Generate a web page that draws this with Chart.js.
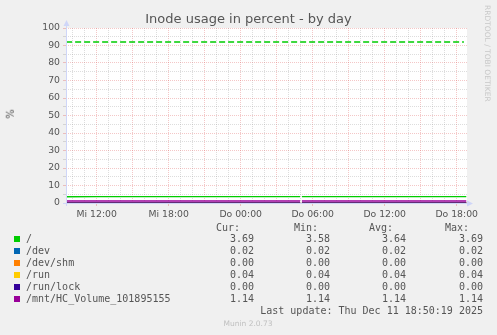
<!DOCTYPE html>
<html>
<head>
<meta charset="utf-8">
<script src="https://cdn.jsdelivr.net/npm/chart.js@4/dist/chart.umd.min.js"></script>
<style>
    body { margin: 0; background: #f0f0f0; }
    #wrap { position: relative; width: 497px; height: 335px; overflow: hidden; }
    #chart { position: absolute; left: 0; top: 0; }
    .txt { position: absolute; white-space: pre; color: #555; font-family: "DejaVu Sans", sans-serif; }
    .mono { font-family: "DejaVu Sans Mono", monospace; font-size: 10px; line-height: 12px; }
</style>
</head>
<body>
<div id="wrap">
    <canvas id="chart" width="497" height="335"></canvas>
</div>
<script>
// hours since Wednesday 00:00
const times = [9.45, 12, 15, 18, 21, 24, 27, 28.95, 29.02, 29.1, 30, 33, 36, 39, 42, 42.8];

const rootValues = [3.58, 3.59, 3.60, 3.61, 3.62, 3.63, 3.64, 3.65, null, 3.65, 3.65, 3.66, 3.67, 3.68, 3.69, 3.69];
const devValues  = [0.02, 0.02, 0.02, 0.02, 0.02, 0.02, 0.02, 0.02, null, 0.02, 0.02, 0.02, 0.02, 0.02, 0.02, 0.02];
const shmValues  = [0.00, 0.00, 0.00, 0.00, 0.00, 0.00, 0.00, 0.00, null, 0.00, 0.00, 0.00, 0.00, 0.00, 0.00, 0.00];
const runValues  = [0.04, 0.04, 0.04, 0.04, 0.04, 0.04, 0.04, 0.04, null, 0.04, 0.04, 0.04, 0.04, 0.04, 0.04, 0.04];
const lockValues = [0.00, 0.00, 0.00, 0.00, 0.00, 0.00, 0.00, 0.00, null, 0.00, 0.00, 0.00, 0.00, 0.00, 0.00, 0.00];
const mntValues  = [1.14, 1.14, 1.14, 1.14, 1.14, 1.14, 1.14, 1.14, null, 1.14, 1.14, 1.14, 1.14, 1.14, 1.14, 1.14];

const warnTimes = [9.45, 42.6];
const warnValues = [92, 92];

const seriesNames = ['/', '/dev', '/dev/shm', '/run', '/run/lock', '/mnt/HC_Volume_101895155'];
const seriesColors = ['#00CC00', '#0066B3', '#FF8000', '#FFCC00', '#330099', '#990099'];
const seriesValues = [rootValues, devValues, shmValues, runValues, lockValues, mntValues];

const curValues = ['3.69', '0.02', '0.00', '0.04', '0.00', '1.14'];
const minValues = ['3.58', '0.02', '0.00', '0.04', '0.00', '1.14'];
const avgValues = ['3.64', '0.02', '0.00', '0.04', '0.00', '1.14'];
const maxValues = ['3.69', '0.02', '0.00', '0.04', '0.00', '1.14'];

const labelHours = [12, 18, 24, 30, 36, 42];
const hourLabels = ['Mi 12:00', 'Mi 18:00', 'Do 00:00', 'Do 06:00', 'Do 12:00', 'Do 18:00'];

const gridGrey = 'rgba(150, 150, 150, 0.32)';
const gridRed = 'rgba(220, 80, 80, 0.32)';
const axisColor = '#CFD6F8';

const datasets = seriesNames.map((name, i) => ({
    label: name,
    data: times.map((t, k) => ({x: t, y: seriesValues[i][k]})),
    borderColor: seriesColors[i],
    borderWidth: 1.3,
    order: seriesNames.length - i
}));
datasets.push({
    label: 'warning',
    data: warnTimes.map((t, k) => ({x: t, y: warnValues[k]})),
    borderColor: '#00CC00',
    borderWidth: 1.3,
    borderDash: [6, 3],
    order: 10
});

const munin = {
    id: 'munin',
    beforeDraw(chart) {
        const {ctx, chartArea: a} = chart;
        ctx.save();
        ctx.fillStyle = '#ffffff';
        ctx.fillRect(a.left, a.top, a.right - a.left, a.bottom - a.top);
        ctx.restore();
    },
    afterDraw(chart) {
        const {ctx, chartArea: a} = chart;
        ctx.save();
        ctx.strokeStyle = axisColor;
        ctx.fillStyle = axisColor;
        ctx.lineWidth = 1;
        ctx.beginPath();
        ctx.moveTo(a.left - 3, a.bottom + 0.5);
        ctx.lineTo(a.right + 1, a.bottom + 0.5);
        ctx.moveTo(a.left + 0.5, a.bottom + 3);
        ctx.lineTo(a.left + 0.5, a.top - 2);
        ctx.stroke();
        // arrows
        ctx.beginPath();
        ctx.moveTo(a.left + 0.5, a.top - 8);
        ctx.lineTo(a.left - 2.5, a.top - 2);
        ctx.lineTo(a.left + 3.5, a.top - 2);
        ctx.closePath();
        ctx.fill();
        ctx.beginPath();
        ctx.moveTo(a.right + 6, a.bottom + 0.5);
        ctx.lineTo(a.right + 0, a.bottom - 2.5);
        ctx.lineTo(a.right + 0, a.bottom + 3.5);
        ctx.closePath();
        ctx.fill();
        ctx.restore();
    }
};

new Chart(document.getElementById('chart'), {
    type: 'line',
    data: {datasets},
    plugins: [munin],
    options: {
        responsive: false,
        animation: false,
        layout: {padding: {left: 0, right: 30, top: 28, bottom: 0}},
        plugins: {legend: {display: false}, tooltip: {enabled: false}},
        elements: {point: {radius: 0}, line: {tension: 0}},
        datasets: {line: {clip: 4, spanGaps: false}},
        scales: {
            x: {
                type: 'linear',
                min: 9.44,
                max: 42.86,
                afterBuildTicks(scale) {
                    const t = [];
                    for (let h = 10; h <= 42; h++) t.push({value: h});
                    scale.ticks = t;
                },
                afterFit(scale) { scale.height = 132; },
                ticks: {
                    autoSkip: false,
                    maxRotation: 0,
                    minRotation: 0,
                    padding: 3,
                    color: '#555',
                    font: {family: 'DejaVu Sans', size: 9.3},
                    callback: v => {
                        const i = labelHours.indexOf(v);
                        return i < 0 ? '' : hourLabels[i];
                    }
                },
                grid: {
                    color: c => (c.tick && c.tick.value % 3 === 0) ? gridRed : gridGrey,
                    tickColor: c => (c.tick && c.tick.value % 6 === 0) ? gridRed : 'rgba(0,0,0,0)',
                    tickLength: 3,
                    lineWidth: 1
                },
                border: {display: false, dash: [1, 1]}
            },
            y: {
                min: 0,
                max: 100,
                afterBuildTicks(scale) {
                    const t = [];
                    for (let v = 0; v <= 100; v += 5) t.push({value: v});
                    scale.ticks = t;
                },
                afterFit(scale) { scale.width = 66; },
                ticks: {
                    autoSkip: false,
                    padding: 3,
                    color: '#555',
                    font: {family: 'DejaVu Sans', size: 9.3},
                    callback: v => v % 10 === 0 ? String(v) : ''
                },
                grid: {
                    color: c => (c.tick && c.tick.value % 10 === 0) ? gridRed : gridGrey,
                    tickColor: c => (c.tick && c.tick.value % 10 === 0) ? gridRed : gridGrey,
                    tickLength: 3,
                    lineWidth: 1
                },
                border: {display: false, dash: [1, 1]}
            }
        }
    }
});

// texts around the graph
const wrap = document.getElementById('wrap');
function addText(text, styles, cls) {
    const el = document.createElement('div');
    el.className = 'txt' + (cls ? ' ' + cls : '');
    el.textContent = text;
    Object.assign(el.style, styles);
    wrap.appendChild(el);
    return el;
}

addText('Inode usage in percent - by day', {left: '0px', width: '497px', textAlign: 'center', top: '11px', fontSize: '13px', lineHeight: '16px'});
addText('%', {left: '6px', top: '108px', fontSize: '10px', lineHeight: '12px', transform: 'rotate(-90deg)'});
addText('RRDTOOL / TOBI OETIKER', {left: '483px', top: '5px', fontSize: '7.5px', lineHeight: '9px', color: '#c8c8c8', writingMode: 'vertical-rl'});

const colEnds = [254, 330, 406, 483];
const headEnds = [240, 318, 393, 469];
['Cur:', 'Min:', 'Avg:', 'Max:'].forEach((h, i) => {
    addText(h, {right: (497 - headEnds[i]) + 'px', top: '222px'}, 'mono');
});

seriesNames.forEach((name, i) => {
    const top = 233 + i * 12;
    const sq = document.createElement('div');
    Object.assign(sq.style, {position: 'absolute', left: '14px', top: (top + 3) + 'px', width: '6px', height: '6px', background: seriesColors[i]});
    wrap.appendChild(sq);
    addText(name, {left: '26px', top: top + 'px'}, 'mono');
    [curValues, minValues, avgValues, maxValues].forEach((col, c) => {
        addText(col[i], {right: (497 - colEnds[c]) + 'px', top: top + 'px'}, 'mono');
    });
});

addText('Last update: Thu Dec 11 18:50:19 2025', {right: '14px', top: '305px'}, 'mono');
addText('Munin 2.0.73', {left: '0px', width: '496px', textAlign: 'center', top: '319px', fontSize: '7.5px', lineHeight: '10px', color: '#c0c0c0'});
</script>
</body>
</html>
